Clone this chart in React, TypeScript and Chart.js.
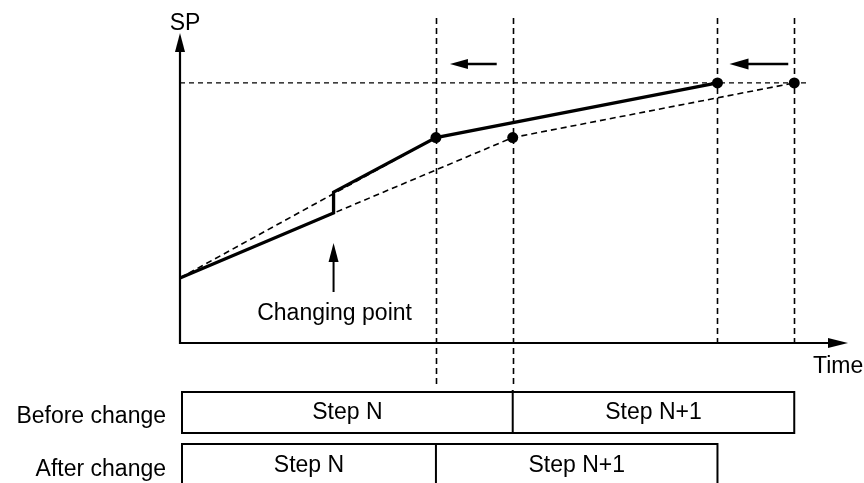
import React, { useEffect, useRef } from "react";
import { Chart, registerables } from "chart.js";

Chart.register(...registerables);

// ---- data (time units on x, SP units on y) ----
const timeAfter = [0, 6, 6, 10, 21];
const spAfter = [25, 50, 58, 79, 100];
const dotsAfter = [0, 0, 0, 5.5, 5.5];

const timeBefore = [0, 13, 24];
const spBefore = [25, 79, 100];
const dotsBefore = [0, 5.5, 5.5];

const timeRetarget = [0, 10];
const spRetarget = [25, 79];

const targetSP = 100;
const targetLineTime = [0, 24.6];

const changeTime = 6;
const stepBoundsBefore = [0, 13, 24];
const stepBoundsAfter = [0, 10, 21];
const stepLabels = ["Step N", "Step N+1"];
const rowLabels = ["Before change", "After change"];
const yAxisLabel = "SP";
const xAxisLabel = "Time";
const changeLabel = "Changing point";

const X_MAX = 26.1;
const Y_MAX = 119.2;
const FONT = '23px "Liberation Sans", Arial, Helvetica, sans-serif';

function toPoints(xs: number[], ys: number[]) {
  return xs.map((x, i) => ({ x, y: ys[i] }));
}

function line(ctx: CanvasRenderingContext2D, x1: number, y1: number, x2: number, y2: number) {
  ctx.beginPath();
  ctx.moveTo(x1, y1);
  ctx.lineTo(x2, y2);
  ctx.stroke();
}

function head(ctx: CanvasRenderingContext2D, tx: number, ty: number, dir: "up" | "left" | "right", len: number, half: number) {
  ctx.beginPath();
  if (dir === "up") {
    ctx.moveTo(tx, ty);
    ctx.lineTo(tx - half, ty + len);
    ctx.lineTo(tx + half, ty + len);
  } else if (dir === "left") {
    ctx.moveTo(tx, ty);
    ctx.lineTo(tx + len, ty - half);
    ctx.lineTo(tx + len, ty + half);
  } else {
    ctx.moveTo(tx, ty);
    ctx.lineTo(tx - len, ty - half);
    ctx.lineTo(tx - len, ty + half);
  }
  ctx.closePath();
  ctx.fill();
}

const diagramPlugin = {
  id: "diagram",
  beforeDatasetsDraw(chart: any) {
    const { ctx, scales } = chart;
    const xs = scales.x;
    ctx.save();
    ctx.strokeStyle = "#000";
    ctx.lineWidth = 1.6;
    ctx.setLineDash([6, 4]);
    const verts: [number, number][] = [
      [stepBoundsAfter[1], 385],
      [stepBoundsBefore[1], 388],
      [stepBoundsAfter[2], 343],
      [stepBoundsBefore[2], 343],
    ];
    verts.forEach(([t, bottom]) => {
      const px = Math.round(xs.getPixelForValue(t)) + 0.5;
      line(ctx, px, 18, px, bottom);
    });
    ctx.restore();
  },
  afterDatasetsDraw(chart: any) {
    const { ctx, scales } = chart;
    const xs = scales.x;
    const ys = scales.y;
    const x0 = xs.getPixelForValue(0);
    const y0 = ys.getPixelForValue(0);
    ctx.save();
    ctx.fillStyle = "#000";
    ctx.strokeStyle = "#000";
    ctx.setLineDash([]);

    // axes
    ctx.lineWidth = 2.2;
    line(ctx, x0, y0 + 1, x0, ys.top + 15);
    head(ctx, x0, ys.top, "up", 19, 5);
    line(ctx, x0 - 1, y0, xs.right - 16, y0);
    head(ctx, xs.right, y0, "right", 20, 5);

    // axis labels
    ctx.font = FONT;
    ctx.textAlign = "center";
    ctx.textBaseline = "alphabetic";
    ctx.fillText(yAxisLabel, x0 + 5, 30);
    ctx.textAlign = "left";
    ctx.fillText(xAxisLabel, xs.right - 35, 373);

    // shift arrows at top
    ctx.lineWidth = 2.5;
    const a1Tip = xs.getPixelForValue(stepBoundsAfter[1]) + 14;
    const a1Tail = xs.getPixelForValue(stepBoundsBefore[1]) - 16;
    line(ctx, a1Tail, 64, a1Tip + 12, 64);
    head(ctx, a1Tip, 64, "left", 18, 5);
    const a2Tip = xs.getPixelForValue(stepBoundsAfter[2]) + 12;
    const a2Tail = xs.getPixelForValue(stepBoundsBefore[2]) - 6;
    line(ctx, a2Tail, 64, a2Tip + 12, 64);
    head(ctx, a2Tip, 64, "left", 19, 5.5);

    // changing point arrow
    const cx = xs.getPixelForValue(changeTime);
    ctx.lineWidth = 2;
    line(ctx, cx, 292, cx, 255);
    head(ctx, cx, 243, "up", 19, 5);
    ctx.textAlign = "center";
    ctx.fillText(changeLabel, cx + 1, 320);

    // step rows
    const rows = [
      { bounds: stepBoundsBefore, top: 392, base: 419 },
      { bounds: stepBoundsAfter, top: 444, base: 472 },
    ];
    ctx.lineWidth = 2;
    rows.forEach((row, r) => {
      const left = xs.getPixelForValue(row.bounds[0]) + 2;
      const right = xs.getPixelForValue(row.bounds[row.bounds.length - 1]);
      ctx.strokeRect(left, row.top, right - left, 41);
      for (let i = 1; i < row.bounds.length - 1; i++) {
        const px = xs.getPixelForValue(row.bounds[i]);
        line(ctx, px, row.top - (r === 0 ? 2 : 0), px, row.top + 41);
      }
      ctx.textAlign = "center";
      for (let i = 0; i < row.bounds.length - 1; i++) {
        const a = i === 0 ? left : xs.getPixelForValue(row.bounds[i]);
        const b = xs.getPixelForValue(row.bounds[i + 1]);
        ctx.fillText(stepLabels[i], (a + b) / 2, row.base);
      }
      ctx.textAlign = "right";
      ctx.fillText(rowLabels[r], 166, row.base + 4);
    });

    ctx.restore();
  },
};

export default function App() {
  const ref = useRef<HTMLCanvasElement | null>(null);

  useEffect(() => {
    if (!ref.current) return;
    const chart = new Chart(ref.current, {
      type: "line",
      data: {
        datasets: [
          {
            data: toPoints(targetLineTime, targetLineTime.map(() => targetSP)),
            borderColor: "#000",
            borderWidth: 1.3,
            borderDash: [5, 4],
            pointRadius: 0,
            clip: false as any,
          },
          {
            data: toPoints(timeRetarget, spRetarget),
            borderColor: "#000",
            borderWidth: 1.6,
            borderDash: [6, 4],
            pointRadius: 0,
            clip: false as any,
          },
          {
            data: toPoints(timeBefore, spBefore),
            borderColor: "#000",
            borderWidth: 1.6,
            borderDash: [6, 4],
            pointRadius: dotsBefore,
            pointBackgroundColor: "#000",
            pointBorderColor: "#000",
            pointBorderWidth: 0,
            clip: false as any,
          },
          {
            data: toPoints(timeAfter, spAfter),
            borderColor: "#000",
            borderWidth: 3.3,
            borderJoinStyle: "miter",
            pointRadius: dotsAfter,
            pointBackgroundColor: "#000",
            pointBorderColor: "#000",
            pointBorderWidth: 0,
            clip: false as any,
          },
        ],
      },
      options: {
        responsive: false,
        animation: false,
        parsing: false as any,
        layout: { padding: { left: 180, right: 16, top: 33, bottom: 140 } },
        scales: {
          x: { type: "linear", min: 0, max: X_MAX, display: false },
          y: { type: "linear", min: 0, max: Y_MAX, display: false },
        },
        plugins: { legend: { display: false }, tooltip: { enabled: false } },
        elements: { line: { tension: 0 } },
      },
      plugins: [diagramPlugin],
    });
    return () => chart.destroy();
  }, []);

  return (
    <div style={{ position: "fixed", left: 0, top: 0, width: 864, height: 483, background: "#fff" }}>
      <canvas ref={ref} width={864} height={483} style={{ display: "block" }} />
    </div>
  );
}
